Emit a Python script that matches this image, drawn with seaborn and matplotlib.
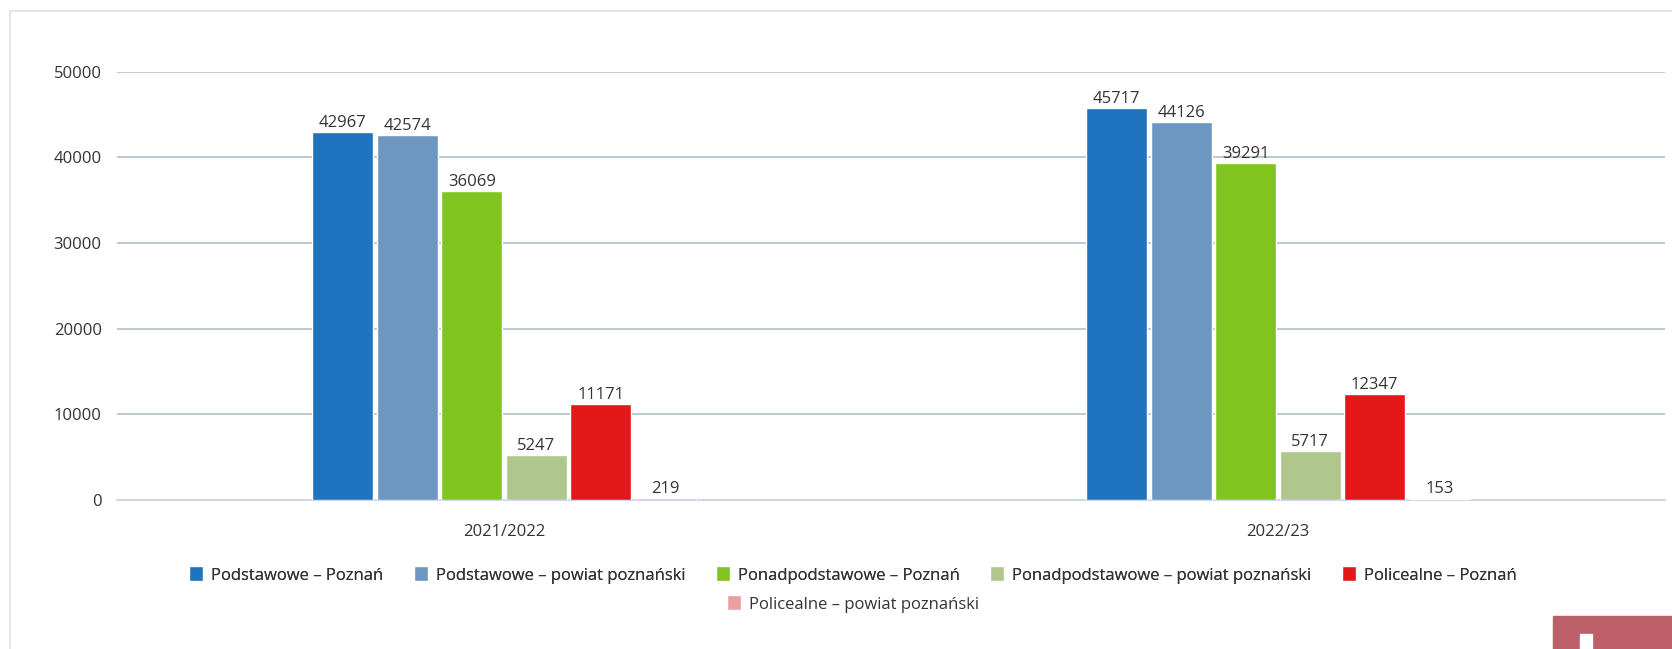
import seaborn as sns
import matplotlib.pyplot as plt
import pandas as pd
from matplotlib.patches import Rectangle

# values
years = ["2021/2022", "2022/23"]
series = [
    "Podstawowe – Poznań",
    "Podstawowe – powiat poznański",
    "Ponadpodstawowe – Poznań",
    "Ponadpodstawowe – powiat poznański",
    "Policealne – Poznań",
    "Policealne – powiat poznański",
]
values_2021 = [42967, 42574, 36069, 5247, 11171, 219]
values_2022 = [45717, 44126, 39291, 5717, 12347, 153]
colors = ["#1f73bf", "#6d97c0", "#82c41f", "#afc68c", "#e41819", "#e8a0a0"]

rows = []
for s, a, b in zip(series, values_2021, values_2022):
    rows.append({"rok": years[0], "seria": s, "liczba": a})
    rows.append({"rok": years[1], "seria": s, "liczba": b})
df = pd.DataFrame(rows)

sns.set_style("white")
plt.rcParams["font.family"] = ["Open Sans", "DejaVu Sans"]
text_color = "#333333"

fig = plt.figure(figsize=(16.72, 6.49), dpi=100)
ax = fig.add_axes([117 / 1672, 1 - 500 / 649, (1665 - 117) / 1672, (500 - 71.7) / 649])

sns.barplot(data=df, x="rok", y="liczba", hue="seria", hue_order=series,
            palette=colors, width=0.5, gap=0.05, ax=ax, saturation=1,
            errorbar=None, legend=True)

for cont in ax.containers:
    for bar in cont:
        bar.set_zorder(3)
    ax.bar_label(cont, fmt="%d", padding=1, fontsize=12, color=text_color)

ax.set_ylim(0, 50000)
ax.set_xlim(-0.5, 1.5)
ax.set_yticks([0, 10000, 20000, 30000, 40000, 50000])
ax.yaxis.grid(True, color="#b5c6cf", linewidth=1.3)
ax.set_axisbelow(True)
ax.set_xlabel("")
ax.set_ylabel("")
for side in ["top", "right", "left"]:
    ax.spines[side].set_visible(False)
ax.spines["bottom"].set_color("#ccd6eb")
ax.spines["bottom"].set_linewidth(1.3)
ax.spines["bottom"].set_zorder(1)
ax.tick_params(axis="y", length=0, pad=11, labelsize=12, labelcolor=text_color)
ax.tick_params(axis="x", which="major", length=0, pad=17, labelsize=12, labelcolor=text_color)
ax.set_xticks([-0.5, 0.5, 1.5], minor=True)
ax.tick_params(axis="x", which="minor", length=7, color="#ccd6eb", width=1)

handles, labels = ax.get_legend_handles_labels()
ax.get_legend().remove()
leg_kw = dict(frameon=False, fontsize=12, handlelength=0.85, handleheight=1.0,
              handletextpad=0.45, columnspacing=1.85, labelcolor=text_color)
leg1 = fig.legend(handles[:5], labels[:5], ncol=5, loc="center",
                  bbox_to_anchor=(0.51, 1 - 575 / 649), **leg_kw)
fig.add_artist(leg1)
fig.legend(handles[5:], labels[5:], ncol=1, loc="center",
           bbox_to_anchor=(0.51, 1 - 604 / 649), **leg_kw)

# page frame and corner widget
fig.add_artist(Rectangle((10 / 1672, -0.01), 1.0, 1 - 11 / 649 + 0.01,
                         transform=fig.transFigure, fill=False,
                         edgecolor="#e2e2e2", linewidth=1.2))
fig.add_artist(Rectangle((1553 / 1672, 0), 119 / 1672, 33 / 649,
                         transform=fig.transFigure, color="#bd5f68"))
fig.add_artist(Rectangle((1580 / 1672, 0), 12 / 1672, 15 / 649,
                         transform=fig.transFigure, color="white"))

fig.savefig("out.png", dpi=100)
